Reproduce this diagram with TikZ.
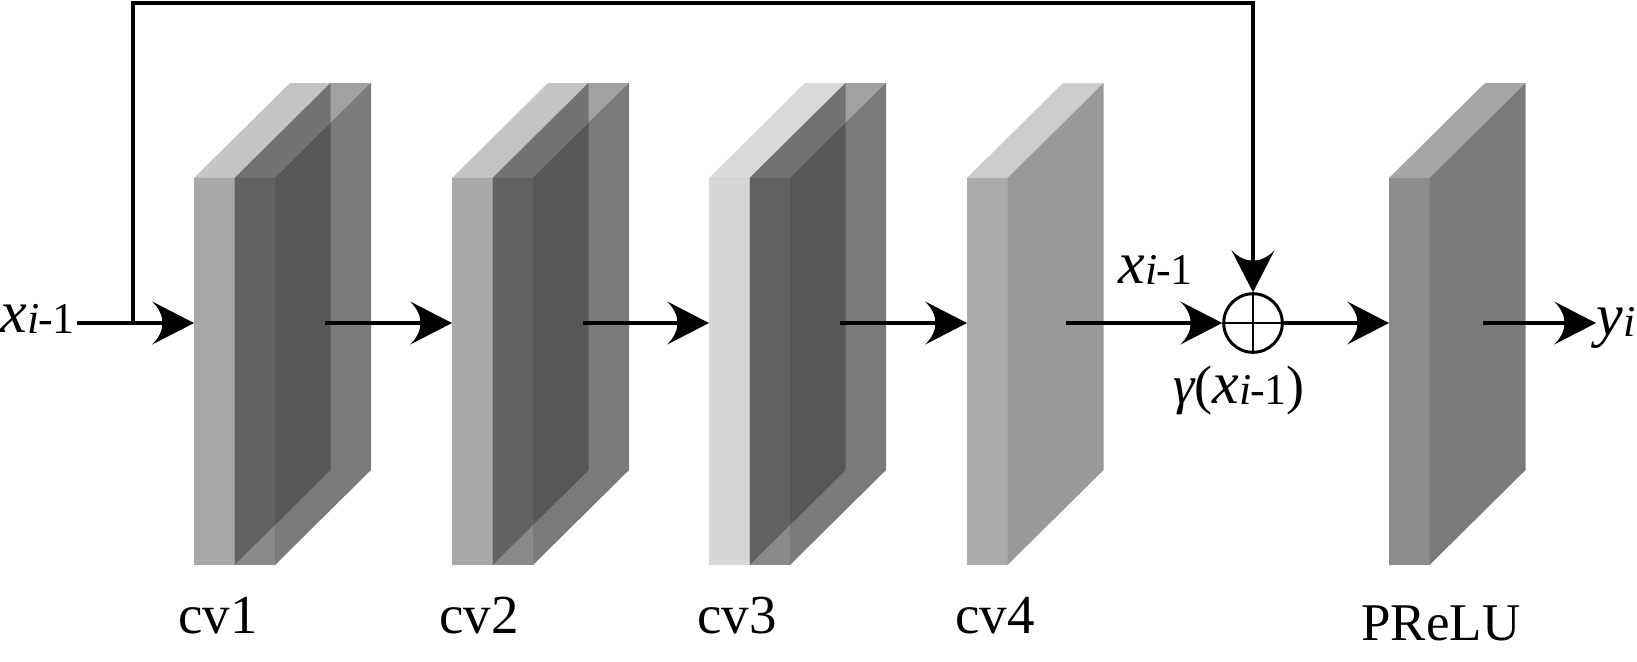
\documentclass[tikz,border=0pt]{standalone}
\usepackage{fontspec}
\setmainfont{Liberation Serif}
\usetikzlibrary{arrows.meta}
\pgfdeclarearrow{
  name = VisTip,
  setup code = {
    \pgfarrowssettipend{0pt}
    \pgfarrowssetlineend{-14pt}
    \pgfarrowssetbackend{-21pt}
    \pgfarrowssetvisualbackend{-16pt}
    \pgfarrowshullpoint{0pt}{0pt}
    \pgfarrowsupperhullpoint{-21pt}{10.8pt}
  },
  drawing code = {
    \pgfpathmoveto{\pgfqpoint{0pt}{0pt}}
    \pgfpathlineto{\pgfqpoint{-21pt}{10.8pt}}
    \pgfpathcurveto{\pgfqpoint{-14pt}{4pt}}{\pgfqpoint{-14pt}{-4pt}}{\pgfqpoint{-21pt}{-10.8pt}}
    \pgfpathclose
    \pgfusepathqfill
  }
}
% #1 left x, #2 slab width, #3 front style, #4 top style, #5 right style
\newcommand{\slabbox}[5]{%
  \fill[#3] (#1,178) rectangle ++(#2,387);
  \fill[#4] (#1,178) -- ++(96,-95) -- ++(#2,0) -- ++(-96,95) -- cycle;
  \fill[#5] (#1+#2,178) -- ++(96,-95) -- ++(0,387) -- ++(-96,95) -- cycle;
}
\newcommand{\xsub}{{\fontsize{30}{30}\selectfont\itshape x}{\fontsize{22}{22}\selectfont\raisebox{-0.9pt}{\itshape i\kern-0.5pt\upshape -\kern-0.3pt1}}}
\definecolor{cvfourF}{gray}{0.67}
\definecolor{cvfourT}{gray}{0.80}
\definecolor{cvfourR}{gray}{0.60}
\definecolor{preF}{gray}{0.55}
\definecolor{preT}{gray}{0.65}
\definecolor{preR}{gray}{0.48}
\begin{document}
\begin{tikzpicture}[x=0.5pt,y=-0.5pt,
  conn/.style={line width=2pt},
  arr/.style={conn,-VisTip},
  txt/.style={inner sep=0pt,anchor=base west},
  cvlbl/.style={inner sep=0pt,anchor=base,font=\fontsize{27.5}{27.5}\selectfont},
  sumnode/.style={circle,draw,line width=1.5pt,minimum size=29.3pt,inner sep=0pt},
  la/.style={black,fill opacity=0.34},
  lt/.style={black,fill opacity=0.23},
  lr/.style={black,fill opacity=0.29},
  wa/.style={black,fill opacity=0.16},
  wt/.style={black,fill opacity=0.15},
  da/.style={black,fill opacity=0.46},
  dt/.style={black,fill opacity=0.37},
  dr/.style={black,fill opacity=0.52}]
\useasboundingbox (0,0) rectangle (1637,661);
% blocks
\slabbox{194}{40.5}{la}{lt}{lr}
\slabbox{234.5}{40.5}{da}{dt}{dr}
\slabbox{452}{40.5}{la}{lt}{lr}
\slabbox{492.5}{40.5}{da}{dt}{dr}
\slabbox{709}{40.5}{wa}{wt}{lr}
\slabbox{749.5}{40.5}{da}{dt}{dr}
\slabbox{967}{40.5}{fill=cvfourF}{fill=cvfourT}{fill=cvfourR}
\slabbox{1389}{40.5}{fill=preF}{fill=preT}{fill=preR}
% coordinates
\coordinate (in) at (77,323);
\coordinate (split) at (133,323);
\coordinate (top) at (0,3);
\coordinate (cv1in) at (194,323); \coordinate (cv1out) at (325,323);
\coordinate (cv2in) at (452,323); \coordinate (cv2out) at (583,323);
\coordinate (cv3in) at (709,323); \coordinate (cv3out) at (840,323);
\coordinate (cv4in) at (967,323); \coordinate (cv4out) at (1066,323);
\coordinate (prin) at (1389,323); \coordinate (prout) at (1483,323);
\node[sumnode] (sum) at (1253,323) {};
% labels
\node[txt] (xin) at (0,332) {\xsub};
\node[txt] (xup) at (1118,283) {\xsub};
\node[txt] (gam) at (1173,403) {{\fontsize{27}{27}\selectfont\itshape γ\upshape(}\xsub{\fontsize{27}{27}\selectfont)}};
\node[txt] (yi) at (1596,335) {{\fontsize{30}{30}\selectfont\itshape y}{\fontsize{22}{22}\selectfont\raisebox{-0.9pt}{\itshape i}}};
\node[cvlbl] (l1) at (218,633) {cv1};
\node[cvlbl] (l2) at (479,633) {cv2};
\node[cvlbl] (l3) at (737,633) {cv3};
\node[cvlbl] (l4) at (995,633) {cv4};
\node[cvlbl,font=\fontsize{26.5}{26.5}\selectfont] (l5) at (1441,640) {PReLU};
% connectors
\draw[arr] (in) -- (cv1in);
\draw[arr] (split) -- (split |- top) -- (sum |- top) -- (sum.north);
\draw[arr] (cv1out) -- (cv2in);
\draw[arr] (cv2out) -- (cv3in);
\draw[arr] (cv3out) -- (cv4in);
\draw[arr] (cv4out) -- (sum.west);
\draw[arr] (sum.east) -- (prin);
\draw[arr] (prout) -- (prout -| yi.west);
\draw[line width=1.4pt] (sum.north) -- (sum.south) (sum.west) -- (sum.east);
\end{tikzpicture}
\end{document}
